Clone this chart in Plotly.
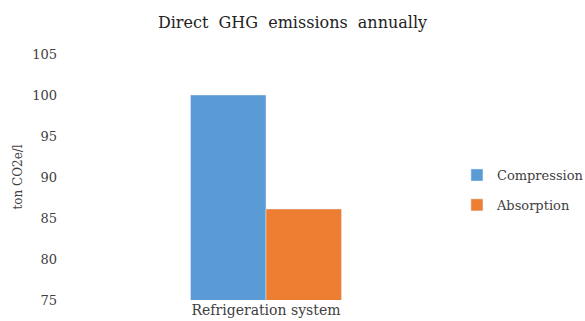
import plotly.graph_objects as go

categories = ["Refrigeration system"]
compression = [100]
absorption = [86.1]

fig = go.Figure()
fig.add_trace(go.Bar(x=categories, y=compression, name="Compression",
                     marker_color="#5B9BD5", legendgroup="a"))
fig.add_trace(go.Bar(x=categories, y=absorption, name="Absorption",
                     marker_color="#ED7D31", legendgroup="b"))

font = "DejaVu Serif"
fig.update_layout(
    width=585, height=321,
    margin=dict(l=62, r=115, t=54, b=21, autoexpand=False),
    paper_bgcolor="white", plot_bgcolor="white",
    font=dict(family=font, size=13, color="#404040"),
    title=dict(text="Direct\u00a0 GHG\u00a0 emissions\u00a0 annually", x=0.5, xanchor="center",
               y=0.93, yanchor="middle", font=dict(family=font, size=16, color="#222222")),
    barmode="group", bargap=0.63, bargroupgap=0,
    legend=dict(x=0.968, y=0.447, xanchor="left", yanchor="middle",
                font=dict(family=font, size=13, color="#404040"),
                traceorder="grouped", tracegroupgap=10,
                itemwidth=30),
    showlegend=True,
)
fig.update_yaxes(range=[75, 105], dtick=5, showgrid=False, zeroline=False,
                 showline=False, ticks="", ticklabelstandoff=4, automargin=False,
                 tickfont=dict(family=font, size=13),
                 title=dict(text="ton CO2e/l", standoff=6, font=dict(family=font, size=12)))
fig.update_xaxes(showgrid=False, showline=False, ticks="", ticklabelstandoff=0,
                 automargin=False, tickfont=dict(family=font, size=14))
fig.write_html("out.html")
